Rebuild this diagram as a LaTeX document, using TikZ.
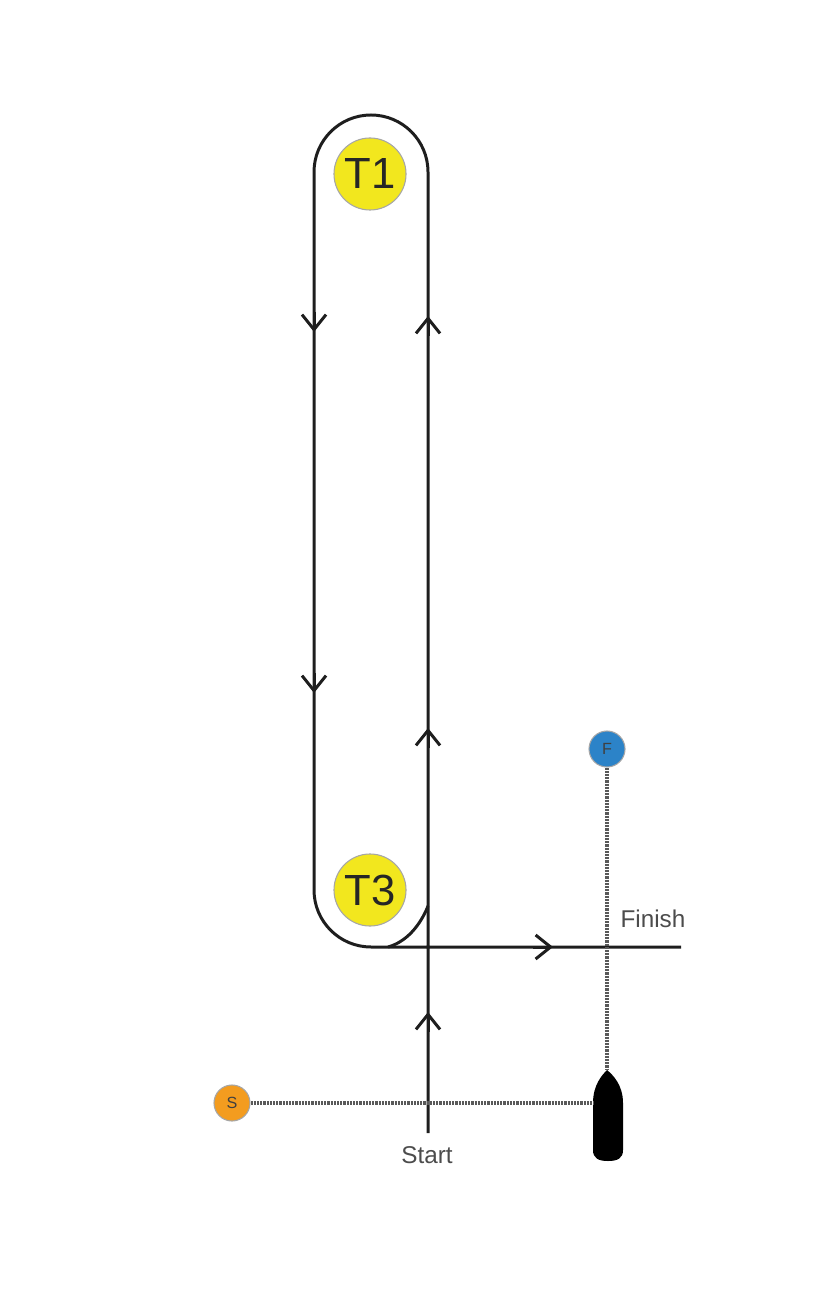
\documentclass[tikz,border=0pt]{standalone}
\usepackage{fontspec}
\setmainfont{Liberation Sans}
\usetikzlibrary{arrows.meta,calc}
\definecolor{markyellow}{HTML}{F2E71E}
\definecolor{markorange}{HTML}{F39C1F}
\definecolor{markblue}{HTML}{2C83C8}
\definecolor{lineblack}{HTML}{1E1E1E}
\begin{document}
\begin{tikzpicture}[x=0.01cm,y=-0.01cm,
	turn/.style={circle,draw=black!35,line width=0.3pt,fill=markyellow,text=black!85,inner sep=0pt,minimum size=7.2mm,font=\fontsize{12.4}{13}\selectfont},
	gate/.style={circle,draw=black!35,line width=0.3pt,text=black!75,inner sep=0pt,minimum size=3.6mm,font=\fontsize{4.6}{5}\selectfont},
	course/.style={lineblack,line width=0.85pt},
	tipmark/.style={lineblack,line width=0.85pt,-{Straight Barb[length=1.5mm,width=2.4mm,line width=0.85pt]}},
	sightline/.style={black!65,line width=1.05pt,dash pattern=on 0.22mm off 0.1mm},
	label/.style={black!70,font=\fontsize{6.9}{8}\selectfont}]
	\useasboundingbox (0,0) rectangle (831,1289);
	\path   (370,174) 	node  	(T1) [turn] {T1}
	        (370,890) 	node  	(T3) [turn] {T3}
	        (232,1103) 	node  	(S) [gate,fill=markorange] {S}
	        (607,749) 	node  	(F) [gate,fill=markblue] {F};
	\coordinate (startend) at (428,1133);
	\coordinate (finishend) at (681,947);
	\coordinate (cutin) at (428,906);
	\coordinate (cutout) at (388,947);
	\coordinate (bow) at (607,1070);
	\coordinate (port) at (594,1103);
	% course
	\draw [course] (startend) -- (428,172) arc [start angle=0,end angle=-180,radius=57]
		-- (314,890) arc [start angle=180,end angle=90,radius=57] -- (finishend);
	\draw [course] (cutin) .. controls (420,926) and (406,942) .. (cutout);
	\foreach \y in {316,728,1012}
		\draw [tipmark] (428,\y+20) -- (428,\y);
	\foreach \y in {332,693}
		\draw [tipmark] (314,\y-20) -- (314,\y);
	\draw [tipmark] (533,947) -- (553,947);
	% boat
	\fill [black] (bow) .. controls (613,1075) and (623,1085) .. (623,1103) -- (623,1150)
		.. controls (623,1158) and (618,1161) .. (608,1161) .. controls (598,1161) and (593,1158) .. (593,1150)
		-- (593,1103) .. controls (593,1085) and (602,1075) .. (bow) -- cycle;
	\draw [sightline] (S) -- (port);
	\draw [sightline] (F) -- (bow);
	\node [label] (startlabel) at (427,1155) {Start};
	\node [label] (finishlabel) at (653,919) {Finish};
\end{tikzpicture}
\end{document}
